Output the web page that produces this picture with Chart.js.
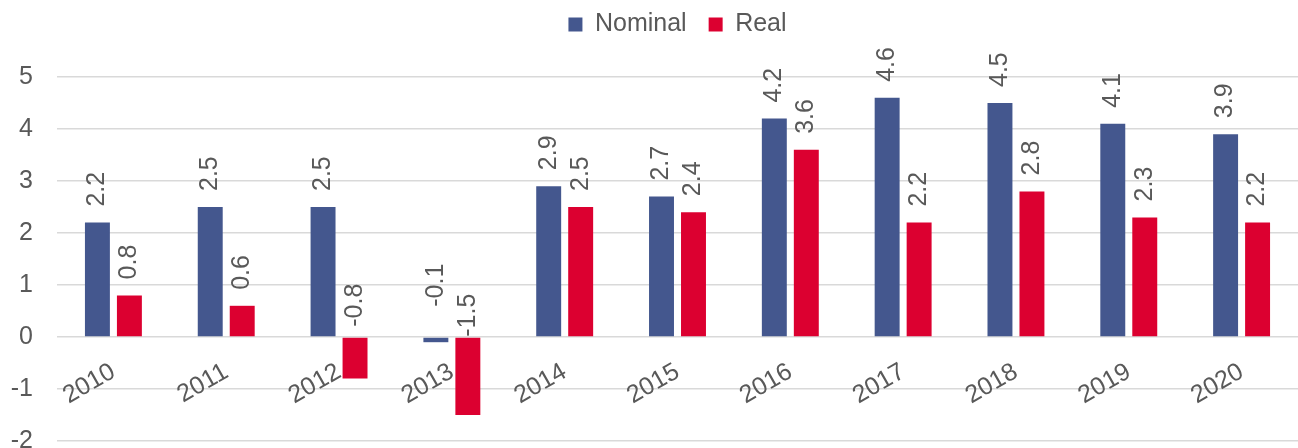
<!DOCTYPE html>
<html>
<head>
<meta charset="utf-8">
<script src="https://cdn.jsdelivr.net/npm/chart.js@4/dist/chart.umd.min.js"></script>
<style>
  html, body { margin: 0; padding: 0; background: #ffffff; overflow: hidden; }
  #wrap { position: relative; width: 1298px; height: 448px; }
</style>
</head>
<body>
<div id="wrap"><canvas id="c"></canvas></div>
<script>
const years = ['2010','2011','2012','2013','2014','2015','2016','2017','2018','2019','2020'];
const nominal = [2.2, 2.5, 2.5, -0.1, 2.9, 2.7, 4.2, 4.6, 4.5, 4.1, 3.9];
const real = [0.8, 0.6, -0.8, -1.5, 2.5, 2.4, 3.6, 2.2, 2.8, 2.3, 2.2];
const yTicks = [-2, -1, 0, 1, 2, 3, 4, 5];

const TEXT = '#595959';
const FONT = 'Liberation Sans, Arial, Helvetica, sans-serif';
const BLUE = '#44578E';
const RED = '#DC0030';

// label gap (px) above the bar end / base; exceptions where labels were moved in the original
const defaultGap = 16;
const gapOverrides = { '0-3': 31, '1-2': 11, '1-3': 1 };

const barLabels = {
  id: 'barLabels',
  afterDatasetsDraw(chart) {
    const ctx = chart.ctx;
    ctx.save();
    ctx.font = '25px ' + FONT;
    ctx.fillStyle = TEXT;
    ctx.textAlign = 'left';
    ctx.textBaseline = 'middle';
    chart.data.datasets.forEach((ds, di) => {
      const meta = chart.getDatasetMeta(di);
      meta.data.forEach((bar, i) => {
        const v = ds.data[i];
        const top = Math.min(bar.y, bar.base);
        const gap = gapOverrides[di + '-' + i] ?? defaultGap;
        ctx.save();
        ctx.translate(bar.x, top - gap);
        ctx.rotate(-Math.PI / 2);
        ctx.fillText(v.toFixed(1), 0, 0);
        ctx.restore();
      });
    });
    ctx.restore();
  }
};

new Chart(document.getElementById('c'), {
  type: 'bar',
  data: {
    labels: years,
    datasets: [
      { label: 'Nominal', data: nominal, backgroundColor: BLUE, categoryPercentage: 0.567, barPercentage: 0.78 },
      { label: 'Real', data: real, backgroundColor: RED, categoryPercentage: 0.567, barPercentage: 0.78 }
    ]
  },
  options: {
    responsive: true,
    maintainAspectRatio: false,
    animation: false,
    layout: { padding: { left: 11, right: 0, top: -10, bottom: 0 } },
    plugins: {
      legend: {
        position: 'top',
        fullSize: false,
        labels: {
          font: { family: FONT, size: 25 },
          color: TEXT,
          boxWidth: 14,
          boxHeight: 14,
          padding: 22
        }
      },
      tooltip: { enabled: false }
    },
    scales: {
      x: {
        position: { y: 0 },
        grid: { display: false, drawTicks: false },
        border: { display: false },
        ticks: {
          font: { family: FONT, size: 25 },
          color: TEXT,
          maxRotation: 30,
          minRotation: 30,
          padding: 20,
          autoSkip: false
        },
        afterFit(s) { s.paddingLeft = 0; s.paddingRight = 0; s.paddingTop = 0; s.paddingBottom = 0; }
      },
      xTop: {
        type: 'category',
        position: 'top',
        display: true,
        grid: { display: false, drawTicks: false },
        border: { display: false },
        ticks: { display: false },
        afterFit(s) { s.height = 30; }
      },
      y: {
        min: -2,
        max: 5,
        afterBuildTicks(s) { s.ticks = yTicks.map(v => ({ value: v })); },
        afterFit(s) { s.width = 46; s.paddingTop = 0; s.paddingBottom = 7; },
        grid: { color: '#D9D9D9', lineWidth: 1.5, drawTicks: false },
        border: { display: false },
        ticks: {
          font: { family: FONT, size: 25 },
          color: TEXT,
          padding: 24
        }
      }
    }
  },
  plugins: [barLabels]
});
</script>
</body>
</html>
